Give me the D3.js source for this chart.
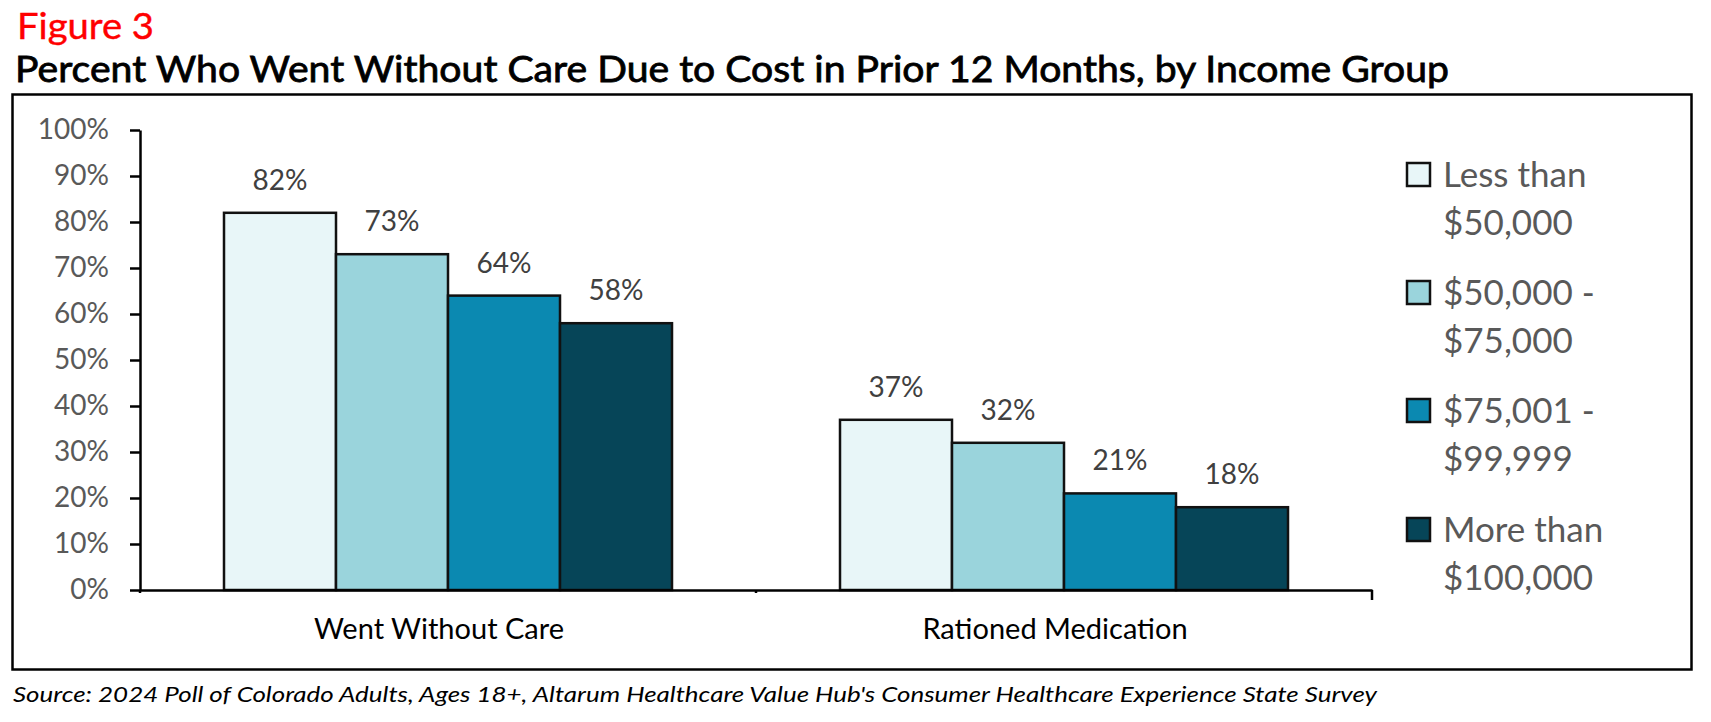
<!DOCTYPE html>
<html>
<head>
<meta charset="utf-8">
<script src="https://cdn.jsdelivr.net/npm/d3@7"></script>
<style>
  body { margin: 0; background: #fff; }
  svg { display: block; }
  text { font-family: Lato, "Open Sans", sans-serif; }
</style>
</head>
<body>
<div id="chart"></div>
<script>
// categories and series
const categories = ["Went Without Care", "Rationed Medication"];
const incomeGroups = ["Less than $50,000", "$50,000 - $75,000", "$75,001 - $99,999", "More than $100,000"];
const legendLines = [["Less than", "$50,000"], ["$50,000 -", "$75,000"], ["$75,001 -", "$99,999"], ["More than", "$100,000"]];
const barColors = ["#E8F6F8", "#9AD4DC", "#0B89B1", "#064558"];

// values (percent) per income group
const wentWithoutCare = [82, 73, 64, 58];
const rationedMedication = [37, 32, 21, 18];

const yTicks = [0, 10, 20, 30, 40, 50, 60, 70, 80, 90, 100];

const figureLabel = "Figure 3";
const titleText = "Percent Who Went Without Care Due to Cost in Prior 12 Months, by Income Group";
const sourceText = "Source: 2024 Poll of Colorado Adults, Ages 18+, Altarum Healthcare Value Hub's Consumer Healthcare Experience State Survey";

const width = 1711;
const height = 722;

const data = categories.map((c, i) => ({
    category: c,
    values: (i === 0 ? wentWithoutCare : rationedMedication).map((v, j) => ({ group: incomeGroups[j], value: v }))
}));

const svg = d3.select("#chart")
    .append("svg")
    .attr("width", width)
    .attr("height", height);

svg.append("rect").attr("width", width).attr("height", height).attr("fill", "#fff");

// heading
svg.append("text")
    .attr("x", 17)
    .attr("y", 39)
    .attr("fill", "#FF0000")
    .attr("stroke", "#FF0000")
    .attr("stroke-width", 0.4)
    .style("font-size", "36px")
    .attr("textLength", 137)
    .attr("lengthAdjust", "spacingAndGlyphs")
    .text(figureLabel);

svg.append("text")
    .attr("x", 15)
    .attr("y", 82)
    .attr("fill", "#000")
    .attr("stroke", "#000")
    .attr("stroke-width", 0.8)
    .style("font-size", "37px")
    .attr("textLength", 1434)
    .attr("lengthAdjust", "spacingAndGlyphs")
    .text(titleText);

// frame
svg.append("rect")
    .attr("x", 12.5)
    .attr("y", 94.5)
    .attr("width", 1679)
    .attr("height", 575)
    .attr("fill", "none")
    .attr("stroke", "#000")
    .attr("stroke-width", 2.5);

// scales
const x0 = d3.scaleBand()
    .domain(categories)
    .range([140, 1372])
    .paddingInner(0)
    .paddingOuter(0);

const x1 = d3.scaleBand()
    .domain(incomeGroups)
    .range([0, x0.bandwidth()])
    .paddingInner(0)
    .paddingOuter(0.75);

const y = d3.scaleLinear()
    .domain([0, 100])
    .range([590, 130]);

const color = d3.scaleOrdinal().domain(incomeGroups).range(barColors);

// y axis
const yAxis = svg.append("g")
    .attr("transform", "translate(140,0)")
    .call(d3.axisLeft(y).tickValues(yTicks).tickFormat(d => d + "%").tickSize(10).tickSizeOuter(0).tickPadding(21));
yAxis.select(".domain").attr("stroke", "#000").attr("stroke-width", 2.5);
yAxis.selectAll(".tick line").attr("stroke", "#000").attr("stroke-width", 2.5);
yAxis.selectAll(".tick text")
    .attr("fill", "#595959")
    .style("font-size", "28px")
    .style("font-family", "Lato, sans-serif");

// bars
const groups = svg.selectAll(".group")
    .data(data)
    .enter()
    .append("g")
    .attr("class", "group")
    .attr("transform", d => `translate(${x0(d.category)},0)`);

groups.selectAll("rect")
    .data(d => d.values)
    .enter()
    .append("rect")
    .attr("x", d => x1(d.group))
    .attr("y", d => y(d.value))
    .attr("width", x1.bandwidth())
    .attr("height", d => y(0) - y(d.value))
    .attr("fill", d => color(d.group))
    .attr("stroke", "#111")
    .attr("stroke-width", 2.5);

groups.selectAll(".val")
    .data(d => d.values)
    .enter()
    .append("text")
    .attr("class", "val")
    .attr("x", d => x1(d.group) + x1.bandwidth() / 2)
    .attr("y", d => y(d.value) - 23)
    .attr("text-anchor", "middle")
    .attr("fill", "#404040")
    .style("font-size", "28px")
    .text(d => d.value + "%");

// x axis
const xAxis = svg.append("g")
    .attr("transform", "translate(0,590)")
    .call(d3.axisBottom(x0).tickSize(0).tickSizeOuter(0).tickPadding(28));
xAxis.select(".domain").attr("stroke", "#000").attr("stroke-width", 2.5);
xAxis.selectAll(".tick text")
    .attr("fill", "#000")
    .attr("dx", -9)
    .style("font-size", "29px")
    .style("font-family", "Lato, sans-serif");

// category boundary ticks
const bounds = categories.map(c => x0(c)).concat([x0.range()[1]]);
xAxis.selectAll(".bound")
    .data(bounds)
    .enter()
    .append("line")
    .attr("class", "bound")
    .attr("x1", d => d)
    .attr("x2", d => d)
    .attr("y1", 0)
    .attr("y2", (d, i) => i === bounds.length - 1 ? 10 : 3)
    .attr("stroke", "#000")
    .attr("stroke-width", 2.5);

// legend
const legend = svg.append("g").attr("transform", "translate(1407,0)");
const legendTop = [163, 281, 399, 518];

const items = legend.selectAll(".item")
    .data(incomeGroups)
    .enter()
    .append("g")
    .attr("class", "item")
    .attr("transform", (d, i) => `translate(0,${legendTop[i]})`);

items.append("rect")
    .attr("width", 23)
    .attr("height", 23)
    .attr("fill", d => color(d))
    .attr("stroke", "#111")
    .attr("stroke-width", 2.5);

items.append("text")
    .attr("x", 36)
    .attr("y", 24)
    .attr("fill", "#595959")
    .style("font-size", "35px")
    .selectAll("tspan")
    .data((d, i) => legendLines[i])
    .enter()
    .append("tspan")
    .attr("x", 36)
    .attr("dy", (d, i) => i === 0 ? 0 : 48)
    .text(d => d);

// source note
svg.append("text")
    .attr("x", 13)
    .attr("y", 702)
    .attr("fill", "#000")
    .style("font-size", "21px")
    .style("font-style", "italic")
    .attr("textLength", 1364)
    .attr("lengthAdjust", "spacingAndGlyphs")
    .text(sourceText);
</script>
</body>
</html>
